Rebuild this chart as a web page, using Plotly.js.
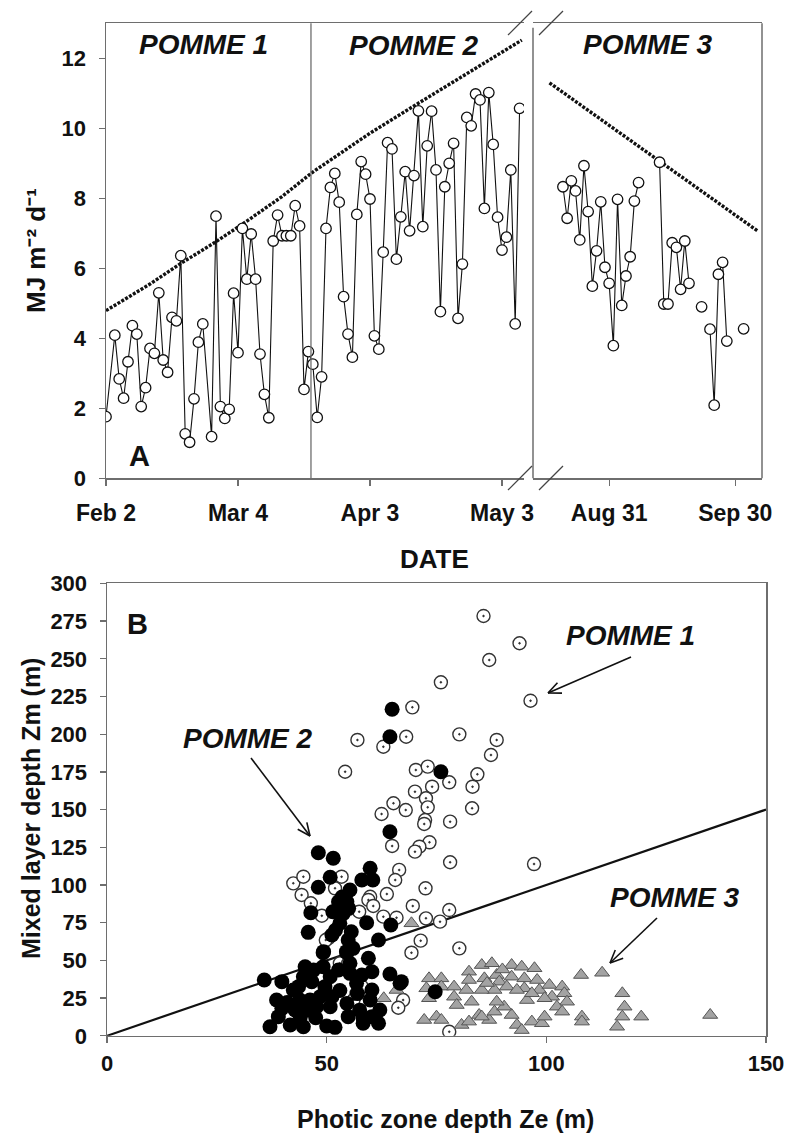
<!DOCTYPE html>
<html>
<head>
<meta charset="utf-8">
<script src="https://cdn.plot.ly/plotly-3.0.1.min.js"></script>
<style>html,body{margin:0;padding:0;background:#fff}#chart{width:787px;height:1133px}</style>
</head>
<body>
<div id="chart"></div>
<script>
// ---------- Panel A: daily irradiance (MJ m-2 d-1) ----------
const springDates = ['2001-02-02','2001-02-04','2001-02-05','2001-02-06','2001-02-07','2001-02-08','2001-02-09','2001-02-10','2001-02-11','2001-02-12','2001-02-13','2001-02-14','2001-02-15','2001-02-16','2001-02-17','2001-02-18','2001-02-19','2001-02-20','2001-02-21','2001-02-22','2001-02-23','2001-02-24','2001-02-26','2001-02-27','2001-02-28','2001-03-01','2001-03-02','2001-03-03','2001-03-04','2001-03-05','2001-03-06','2001-03-07','2001-03-08','2001-03-09','2001-03-10','2001-03-11','2001-03-12','2001-03-13','2001-03-14','2001-03-15','2001-03-16','2001-03-17','2001-03-18','2001-03-19','2001-03-20','2001-03-21','2001-03-22','2001-03-23','2001-03-24','2001-03-25','2001-03-26','2001-03-27','2001-03-28','2001-03-29','2001-03-30','2001-03-31','2001-04-01','2001-04-02','2001-04-03','2001-04-04','2001-04-05','2001-04-06','2001-04-07','2001-04-08','2001-04-09','2001-04-10','2001-04-11','2001-04-12','2001-04-13','2001-04-14','2001-04-15','2001-04-16','2001-04-17','2001-04-18','2001-04-19','2001-04-20','2001-04-21','2001-04-22','2001-04-23','2001-04-24','2001-04-25','2001-04-26','2001-04-27','2001-04-28','2001-04-29','2001-04-30','2001-05-01','2001-05-02','2001-05-03','2001-05-04','2001-05-05','2001-05-06','2001-05-07'];
const springIrr = [1.76,4.09,2.84,2.29,3.33,4.36,4.12,2.05,2.59,3.71,3.57,5.30,3.38,3.03,4.60,4.50,6.36,1.27,1.03,2.27,3.89,4.41,1.19,7.49,2.05,1.71,1.97,5.29,3.59,7.14,5.69,6.98,5.69,3.55,2.40,1.73,6.78,7.52,6.93,6.93,6.93,7.79,7.21,2.54,3.62,3.26,1.74,2.90,7.14,8.31,8.71,7.89,5.19,4.12,3.46,7.54,9.05,8.69,7.98,4.07,3.69,6.46,9.59,9.41,6.26,7.47,8.76,7.07,8.65,10.50,7.19,9.50,10.49,8.81,4.76,8.33,9.00,9.57,4.57,6.12,10.31,10.07,10.98,10.81,7.71,11.02,9.54,7.46,6.52,6.89,8.81,4.41,10.57];

const autumnDates = ['2001-08-20','2001-08-21','2001-08-22','2001-08-23','2001-08-24','2001-08-25','2001-08-26','2001-08-27','2001-08-28','2001-08-29','2001-08-30','2001-08-31','2001-09-01','2001-09-02','2001-09-03','2001-09-04','2001-09-05','2001-09-06','2001-09-07','2001-09-08','2001-09-12','2001-09-13','2001-09-14','2001-09-15','2001-09-16','2001-09-17','2001-09-18','2001-09-19','2001-09-20','2001-09-22','2001-09-23','2001-09-24','2001-09-25','2001-09-26','2001-09-27','2001-09-28','2001-09-29','2001-10-02'];
const autumnIrr = [8.33,7.43,8.50,8.21,6.81,8.93,7.62,5.49,6.50,7.90,6.03,5.57,3.79,7.97,4.94,5.78,6.33,7.92,8.45,null,9.03,4.98,4.98,6.73,6.60,5.40,6.78,5.57,null,4.90,null,4.26,2.09,5.83,6.17,3.92,null,4.27];

// dotted (clear-sky) curves
const clearSpringDates = ['2001-02-02','2001-02-12','2001-02-19','2001-02-26','2001-03-05','2001-03-14','2001-03-21','2001-04-03','2001-04-13','2001-04-23','2001-05-07 12:00'];
const clearSpringIrr = [4.79,5.55,6.14,6.68,7.26,8.05,8.75,9.86,10.64,11.41,12.52];
const clearAutumnDates = ['2001-08-16 19:00','2001-10-05 07:00'];
const clearAutumnIrr = [11.30,7.07];

const tickDatesA1 = ['2001-02-02','2001-03-04','2001-04-03','2001-05-03'];
const tickTextA1 = ['Feb 2','Mar 4','Apr 3','May 3'];
const tickDatesA2 = ['2001-08-31','2001-09-30'];
const tickTextA2 = ['Aug 31','Sep 30'];
const cruiseBoundary = '2001-03-20 14:00';

// ---------- Panel B: Zm vs Ze ----------
const p1Ze = [85.7,93.9,87.0,76.0,96.4,69.5,68.1,80.2,62.9,88.7,87.4,57.0,54.2,70.3,73.0,77.9,84.3,74.0,83.2,70.1,72.6,65.2,68.0,62.5,73.0,72.4,72.2,83.1,78.1,64.9,73.4,71.1,70.1,78.1,97.2,66.5,65.6,72.5,63.7,42.4,44.7,44.3,53.4,51.9,59.9,48.9,59.5,60.6,57.4,62.9,65.9,69.6,72.6,75.8,77.9,71.4,69.3,80.2,50.4,53.0,54.9,56.8,58.0,56.1,67.4,66.3,77.9,46.4,49.8];
const p1Zm = [278.4,260.3,249.2,234.4,222.2,217.8,198.3,199.9,191.7,196.2,186.2,196.2,175.1,176.3,178.5,168.1,173.4,165.2,165.2,161.9,157.5,154.2,149.7,147.1,151.5,143.1,140.5,150.9,142.0,125.9,128.3,125.4,122.1,115.1,113.9,110.0,103.3,97.8,94.0,101.1,105.5,93.4,105.5,97.8,92.2,79.6,90.1,86.1,82.3,79.0,78.3,86.1,77.9,75.7,83.4,63.1,55.1,58.0,64.7,48.1,48.1,28.2,32.6,23.7,23.7,18.6,2.7,87.9,63.5];

const p2Ze = [64.9,64.4,76.0,64.4,48.1,51.5,50.8,48.1,59.9,58.0,60.5,55.3,52.7,54.6,46.4,51.4,53.8,53.0,59.1,64.6,45.8,51.2,54.9,61.8,49.2,54.6,59.5,45.1,49.2,52.7,55.3,58.0,60.3,64.4,66.7,35.8,39.8,43.6,46.6,49.6,43.9,46.2,48.5,51.2,38.6,39.8,42.8,45.4,47.7,50.8,54.6,54.9,58.3,60.3,62.1,59.9,60.3,39.0,37.1,41.7,44.7,50.0,51.9,58.3,61.8,42.4,44.7,47.0,50.8,55.3,56.8,74.7,53.5,55.0,52.0,56.0,47.5,44.0,57.0,53.0,41.0,57.5,55.6,49.3,54.5,67.0];
const p2Zm = [216.5,198.3,175.1,135.3,121.4,117.7,105.1,98.5,111.1,103.3,103.3,96.7,88.9,88.9,81.6,82.3,81.2,74.6,75.0,73.5,68.6,66.8,63.5,63.5,55.1,55.1,51.4,45.8,45.8,43.6,41.4,40.3,42.5,41.0,34.8,37.0,35.9,32.6,35.9,32.6,23.7,23.7,25.9,25.9,23.7,18.2,17.1,17.1,19.3,19.3,21.5,12.7,11.6,12.7,17.1,23.7,30.4,12.7,6.0,7.2,6.0,6.5,5.6,8.3,8.3,30.4,39.2,43.6,39.2,48.1,34.8,29.2,92.0,84.5,70.0,58.0,12.0,12.5,28.0,30.0,22.0,17.0,69.0,55.8,55.8,35.9];

const p3Ze = [69.3,73.3,72.7,73.3,76.1,76.1,79.0,79.0,79.6,82.4,82.4,81.8,85.3,85.9,87.6,88.7,89.3,88.2,85.3,92.1,92.1,94.4,95.0,95.0,97.3,97.9,98.4,91.0,93.3,100.7,101.3,103.6,104.1,104.7,102.4,103.6,107.9,112.7,108.1,108.1,117.3,117.8,117.3,116.1,121.6,137.3,72.2,75.0,76.1,80.7,82.4,84.7,87.0,88.2,92.1,93.3,94.4,96.7,99.0,99.6,90.4,88.7,83.0,85.3,95.6,96.7,99.6,63.0,65.9,90.0,86.5];
const p3Zm = [74.6,38.1,31.5,24.9,38.1,32.6,32.6,25.9,20.4,42.5,37.0,30.4,46.9,38.1,48.1,40.3,35.9,30.4,30.4,46.9,39.2,45.8,38.1,31.5,44.8,37.0,30.4,32.6,30.4,33.7,25.9,32.6,28.2,22.6,19.3,16.0,40.3,41.8,12.7,9.4,28.2,19.3,12.7,6.0,12.7,13.8,10.5,12.7,10.5,7.2,9.4,13.8,10.5,16.0,13.8,7.2,3.8,9.4,8.3,12.7,19.3,22.6,22.6,12.7,23.7,28.2,24.9,24.9,30.4,44.0,35.0];

const oneToOneX = [0,150];
const oneToOneY = [0,150];

// ---------- layout helpers (pixel -> paper) ----------
const W = 787, H = 1133;
const px = v => v / W;
const py = v => 1 - v / H;

const FONT = 'Liberation Sans, Arial, Helvetica, sans-serif';
const AX = '#6e6e6e';

const traces = [
  {x: clearSpringDates, y: clearSpringIrr, xaxis:'x', yaxis:'y', mode:'lines',
   line:{color:'#111', width:3.4, dash:'3px,1.5px'}, hoverinfo:'skip'},
  {x: clearAutumnDates, y: clearAutumnIrr, xaxis:'x2', yaxis:'y', mode:'lines',
   line:{color:'#111', width:3.4, dash:'3px,1.5px'}, hoverinfo:'skip'},
  {x: springDates, y: springIrr, xaxis:'x', yaxis:'y', mode:'lines+markers',
   line:{color:'#111', width:1.1},
   marker:{symbol:'circle', size:10.5, color:'#fff', line:{color:'#111', width:1.3}}},
  {x: autumnDates, y: autumnIrr, xaxis:'x2', yaxis:'y', mode:'lines+markers', connectgaps:false,
   line:{color:'#111', width:1.1},
   marker:{symbol:'circle', size:10.5, color:'#fff', line:{color:'#111', width:1.3}}},
  {x: oneToOneX, y: oneToOneY, xaxis:'x3', yaxis:'y2', mode:'lines',
   line:{color:'#111', width:2.2}},
  {x: p1Ze, y: p1Zm, xaxis:'x3', yaxis:'y2', mode:'markers', name:'POMME 1',
   marker:{symbol:'circle-dot', size:13, color:'#fff', line:{color:'#333', width:1.4}}},
  {x: p3Ze, y: p3Zm, xaxis:'x3', yaxis:'y2', mode:'markers', name:'POMME 3',
   marker:{symbol:'triangle-up', size:13, color:'#a3a3a3', line:{color:'#555', width:1}}},
  {x: p2Ze, y: p2Zm, xaxis:'x3', yaxis:'y2', mode:'markers', name:'POMME 2',
   marker:{symbol:'circle', size:15, color:'#000', line:{color:'#000', width:0}}}
];

const tickFont = {family: FONT, size: 22, color:'#111', weight:'bold'};
const commonAxis = {showgrid:false, zeroline:false, showline:true, linecolor:AX, linewidth:1.5,
  ticks:'outside', ticklen:6, tickwidth:1.3, tickcolor:AX, fixedrange:true};

// annotation arrows drawn as line shapes (tail -> tip in page pixels)
const arrowDefs = [
  {tail:[631,657], tip:[548,693]},
  {tail:[251,758], tip:[310,836]},
  {tail:[657,918], tip:[610,963]}
];
const arrowShapes = [];
arrowDefs.forEach(a => {
  const [tx, ty] = a.tail, [hx, hy] = a.tip;
  const ang = Math.atan2(hy - ty, hx - tx);
  const L = 14, spread = 0.42;
  const style = {color:'#111', width:1.6};
  arrowShapes.push({type:'line', xref:'paper', yref:'paper', x0:px(tx), y0:py(ty), x1:px(hx), y1:py(hy), line:style});
  [ang + Math.PI - spread, ang + Math.PI + spread].forEach(b => {
    arrowShapes.push({type:'line', xref:'paper', yref:'paper', x0:px(hx), y0:py(hy),
      x1:px(hx + L*Math.cos(b)), y1:py(hy + L*Math.sin(b)), line:style});
  });
});

function label(text, x, y, size, extra) {
  return Object.assign({text:text, xref:'paper', yref:'paper', x:px(x), y:py(y), xanchor:'center', yanchor:'middle',
    showarrow:false, font:{family:FONT, size:size, color:'#111'}}, extra || {});
}

const layout = {
  width: W, height: H, margin:{l:0, r:0, t:0, b:0},
  paper_bgcolor:'#fff', plot_bgcolor:'rgba(0,0,0,0)', showlegend:false, hovermode:false,
  font:{family: FONT, color:'#111'},
  xaxis: Object.assign({}, commonAxis, {type:'date', domain:[px(106), px(524)], anchor:'y',
    range:['2001-02-02','2001-05-08'], tickmode:'array', tickvals:tickDatesA1, ticktext:tickTextA1,
    mirror:true, tickfont:Object.assign({}, tickFont, {size:23}), ticklabelstandoff:8}),
  xaxis2: Object.assign({}, commonAxis, {type:'date', domain:[px(533), px(762)], anchor:'y',
    range:['2001-08-12 21:00','2001-10-06 09:00'], tickmode:'array', tickvals:tickDatesA2, ticktext:tickTextA2,
    mirror:true, tickfont:Object.assign({}, tickFont, {size:23}), ticklabelstandoff:8}),
  yaxis: Object.assign({}, commonAxis, {domain:[py(478.3), py(23.3)], anchor:'x', range:[0,13],
    tickmode:'array', tickvals:[0,2,4,6,8,10,12], tickfont:tickFont, ticklabelstandoff:8}),
  xaxis3: Object.assign({}, commonAxis, {domain:[px(107), px(766)], anchor:'y2', range:[0,150],
    tickmode:'array', tickvals:[0,50,100,150], mirror:true, tickfont:tickFont, ticklabelstandoff:1}),
  yaxis2: Object.assign({}, commonAxis, {domain:[py(1035.8), py(583.4)], anchor:'x3', range:[0,300],
    tickmode:'linear', tick0:0, dtick:25, mirror:true, tickfont:tickFont, ticklabelstandoff:8}),
  shapes: [
    {type:'line', xref:'x2 domain', yref:'y domain', x0:0, x1:0, y0:0, y1:0.99, line:{color:AX, width:1.5}},
    {type:'line', xref:'x2 domain', yref:'y domain', x0:1, x1:1, y0:0, y1:1, line:{color:AX, width:1.5}},
    {type:'line', xref:'x', yref:'y domain', x0:cruiseBoundary, x1:cruiseBoundary, y0:0, y1:1, line:{color:AX, width:1.3}},
    // axis break marks
    {type:'line', xref:'paper', yref:'paper', x0:px(508), y0:py(35), x1:px(532), y1:py(11), line:{color:'#444', width:1.2}},
    {type:'line', xref:'paper', yref:'paper', x0:px(539), y0:py(35), x1:px(563), y1:py(11), line:{color:'#444', width:1.2}},
    {type:'line', xref:'paper', yref:'paper', x0:px(508), y0:py(490), x1:px(532), y1:py(466), line:{color:'#444', width:1.2}},
    {type:'line', xref:'paper', yref:'paper', x0:px(539), y0:py(490), x1:px(563), y1:py(466), line:{color:'#444', width:1.2}}
  ].concat(arrowShapes),
  annotations: [
    label('<b><i>POMME 1</i></b>', 203, 45, 28),
    label('<b><i>POMME 2</i></b>', 414, 46, 28),
    label('<b><i>POMME 3</i></b>', 648, 45, 28),
    label('<b>A</b>', 139, 456, 29),
    label('<b>B</b>', 137, 624, 29),
    label('<b>MJ m\u207B\u00B2 d\u207B\u00B9</b>', 36, 251, 26, {textangle:-90}),
    label('<b>DATE</b>', 434, 559, 26),
    label('<b>Mixed layer depth Zm (m)</b>', 31, 809, 25, {textangle:-90}),
    label('<b>Photic zone depth Ze (m)</b>', 445, 1119, 25),
    label('<b><i>POMME 1</i></b>', 630, 635, 28),
    label('<b><i>POMME 2</i></b>', 248, 738, 28),
    label('<b><i>POMME 3</i></b>', 675, 897, 28)
  ]
};

Plotly.newPlot('chart', traces, layout, {displayModeBar:false, staticPlot:true});
</script>
</body>
</html>
